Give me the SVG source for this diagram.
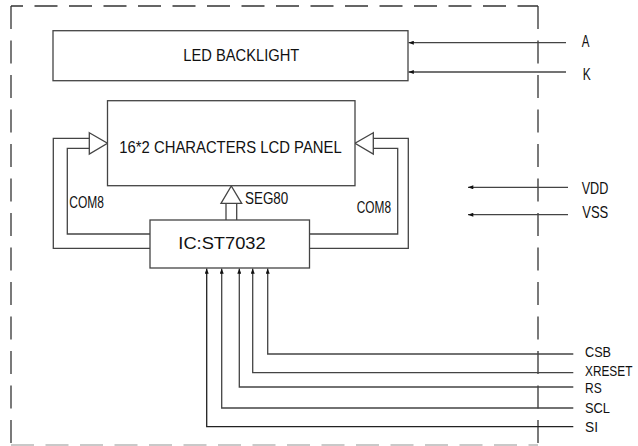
<svg xmlns="http://www.w3.org/2000/svg" width="638" height="446" viewBox="0 0 638 446">
<defs>
<style>
.box{fill:#fff;stroke:#444;stroke-width:1.3}
.ln{fill:none;stroke:#444;stroke-width:1.3}
.dash{fill:none;stroke:#333;stroke-width:1.3;stroke-dasharray:23 11.5}
.hollow{fill:#fff;stroke:#444;stroke-width:1.3;stroke-linejoin:miter}
text{font-family:"Liberation Sans",Arial,sans-serif;font-size:17px;fill:#111}
.pin{font-size:17px}
.sig{font-size:15.5px}
</style>
<marker id="ah" viewBox="0 0 8 6" refX="8" refY="3" markerWidth="7" markerHeight="4" markerUnits="userSpaceOnUse" orient="auto">
<path d="M0,0 L8,3 L0,6 Z" fill="#111"/>
</marker>
</defs>
<rect width="638" height="446" fill="#fff"/>

<g id="frame">
<line class="dash" x1="11" y1="6" x2="11" y2="446"/>
<line class="dash" x1="11" y1="6" x2="538" y2="6" stroke-dashoffset="11"/>
<line class="dash" x1="538" y1="6" x2="538" y2="446"/>
<line class="dash" x1="11" y1="445" x2="538" y2="445" stroke-opacity="0.35"/>
</g>

<g id="connectors">
<line class="ln" x1="566" y1="42.7" x2="408.5" y2="42.7" marker-end="url(#ah)"/>
<line class="ln" x1="566" y1="72" x2="408.5" y2="72" marker-end="url(#ah)"/>
<line class="ln" x1="568" y1="187.3" x2="468" y2="187.3" marker-end="url(#ah)"/>
<line class="ln" x1="568" y1="214.7" x2="468" y2="214.7" marker-end="url(#ah)"/>
<polyline class="ln" points="150,248.3 53.3,248.3 53.3,138.3 89.3,138.3"/>
<polyline class="ln" points="150,234 67.3,234 67.3,148.3 89.3,148.3"/>
<polygon class="hollow" points="89.3,132.7 107.5,143.3 89.3,154"/>
<polyline class="ln" points="309.5,248.3 408.3,248.3 408.3,138.3 373.3,138.3"/>
<polyline class="ln" points="309.5,234 397.7,234 397.7,148.3 373.3,148.3"/>
<polygon class="hollow" points="373.3,132.7 355,143.3 373.3,154"/>
<line class="ln" x1="226" y1="220" x2="226" y2="203.3"/>
<line class="ln" x1="236.7" y1="220" x2="236.7" y2="203.3"/>
<polygon class="hollow" points="221,203.3 231.3,186 241.7,203.3"/>
<polyline class="ln" points="573.3,354 267.7,354 267.7,268.5" marker-end="url(#ah)"/>
<polyline class="ln" points="573.3,372.7 252.7,372.7 252.7,268.5" marker-end="url(#ah)"/>
<polyline class="ln" points="573.3,387 239.3,387 239.3,268.5" marker-end="url(#ah)"/>
<polyline class="ln" points="573.3,408 221.7,408 221.7,268.5" marker-end="url(#ah)"/>
<polyline class="ln" points="573.3,426.7 206.7,426.7 206.7,268.5" marker-end="url(#ah)" style="stroke:#222"/>
</g>

<g id="backlight">
<rect class="box" x="53" y="30.7" width="355" height="50"/>
<text x="183.3" y="61.3" textLength="116" lengthAdjust="spacingAndGlyphs">LED BACKLIGHT</text>
</g>

<g id="lcd-panel">
<rect class="box" x="107.5" y="100.7" width="247.5" height="85"/>
<text x="119.3" y="153.3" textLength="222.4" lengthAdjust="spacingAndGlyphs">16*2 CHARACTERS LCD PANEL</text>
</g>

<g id="ic">
<rect class="box" x="150" y="220" width="159.5" height="48"/>
<text x="178.3" y="249.3" textLength="87.4" lengthAdjust="spacingAndGlyphs">IC:ST7032</text>
</g>

<g id="bus-labels">
<text x="245" y="204.3" textLength="43.3" lengthAdjust="spacingAndGlyphs">SEG80</text>
<text x="69.3" y="208.3" textLength="34.7" lengthAdjust="spacingAndGlyphs">COM8</text>
<text x="356.7" y="212.7" textLength="34.3" lengthAdjust="spacingAndGlyphs">COM8</text>
</g>

<g id="pins">
<text class="pin" x="581.7" y="46.7" textLength="7.7" lengthAdjust="spacingAndGlyphs">A</text>
<text class="pin" x="582.7" y="79.5" textLength="8" lengthAdjust="spacingAndGlyphs">K</text>
<text class="pin" x="581.7" y="194" textLength="26.7" lengthAdjust="spacingAndGlyphs">VDD</text>
<text class="pin" x="582.3" y="218.3" textLength="26" lengthAdjust="spacingAndGlyphs">VSS</text>
<text class="sig" x="585" y="356.7" textLength="26" lengthAdjust="spacingAndGlyphs">CSB</text>
<text class="sig" transform="translate(585,376) scale(0.765,1)">XRESET</text>
<text class="sig" x="585" y="393" textLength="16.7" lengthAdjust="spacingAndGlyphs">RS</text>
<text class="sig" x="585" y="413.3" textLength="25" lengthAdjust="spacingAndGlyphs">SCL</text>
<text class="sig" x="585" y="431.7" textLength="13" lengthAdjust="spacingAndGlyphs">SI</text>
</g>
</svg>
